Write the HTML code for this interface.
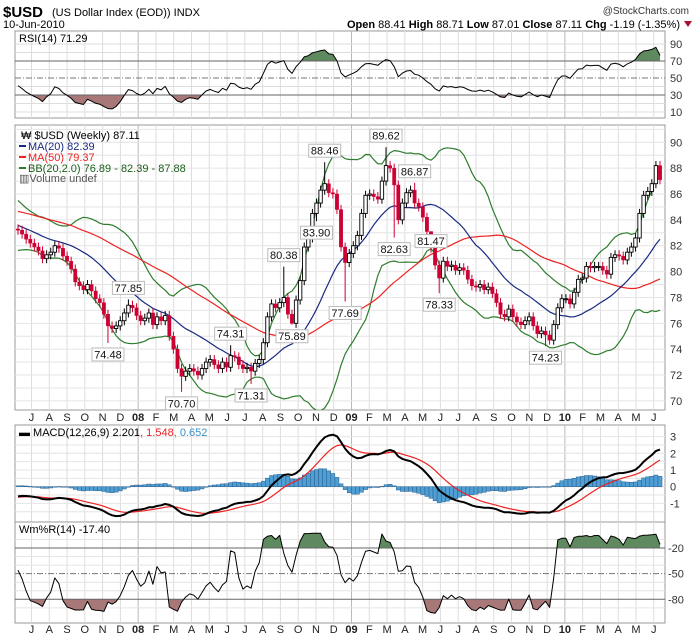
<!DOCTYPE html>
<html><head><meta charset="utf-8">
<style>
html,body{margin:0;padding:0;background:#fff;}
svg{display:block;font-family:"Liberation Sans",sans-serif;}
</style></head>
<body>
<svg id="chart" width="700" height="639" viewBox="0 0 700 639" xmlns="http://www.w3.org/2000/svg">
<g>
<text x="3" y="17" font-size="15" font-weight="bold">$USD</text>
<text x="52" y="16" font-size="11">(US Dollar Index (EOD))  INDX</text>
<text x="3" y="28" font-size="11">10-Jun-2010</text>
<text x="689" y="14" font-size="10" text-anchor="end" fill="#333">@StockCharts.com</text>
<text x="680" y="28" font-size="11" text-anchor="end"><tspan font-weight="bold">Open</tspan> 88.41 <tspan font-weight="bold">High</tspan> 88.71 <tspan font-weight="bold">Low</tspan> 87.01 <tspan font-weight="bold">Close</tspan> 87.11 <tspan font-weight="bold">Chg</tspan> -1.19 (-1.35%)</text>
<path d="M684,21 L692,21 L688,27 Z" fill="#aa1133"/>
</g>
<g id="layer"></g>
</svg>
<script>
// ---- data ----
const priorCloses=[86.5,86.2,85.9,86.3,86.0,85.7,85.4,85.8,86.1,85.9,85.5,85.2,85.0,85.4,85.7,85.3,84.9,84.6,84.8,85.1,85.3,84.9,84.6,84.4,84.7,85.0,85.2,84.9,85.6,
85.6,85.4,85.2,84.9,84.7,84.5,84.2,84.0,83.9,83.7,83.4,83.1,82.8,82.5,82.3,82.2,82.4,82.7,83.0,83.3];
const closes=[83.2,82.9,82.5,82.2,
81.9,81.6,81.0,81.3,
81.5,82.0,81.8,81.2,80.8,
80.2,79.2,78.9,78.6,
79.0,78.5,77.9,77.6,
76.7,75.8,75.6,75.8,76.2,
76.8,77.4,77.2,76.6,
76.2,76.4,76.8,75.9,
76.5,76.2,76.6,75.0,74.0,
72.5,71.9,72.3,72.5,
72.3,72.0,72.5,73.0,
73.2,72.8,72.5,73.0,72.6,
73.5,73.4,72.8,72.5,
72.6,72.3,72.9,73.2,
74.5,76.5,77.5,77.2,77.6,
78.0,76.7,76.0,77.8,
79.3,81.9,82.6,84.5,85.3,
86.3,86.8,86.1,86.0,
84.8,81.9,80.7,81.4,
82.0,82.8,84.5,85.9,86.0,
85.8,85.6,87.0,88.2,
88.0,86.7,84.0,85.3,
86.1,86.3,85.3,85.0,
84.2,83.1,82.2,80.5,79.5,
80.8,80.4,80.5,80.1,
80.3,80.1,79.4,78.9,78.8,
79.0,78.6,78.8,78.3,
77.6,76.7,76.5,77.1,
76.5,76.1,75.9,76.2,76.5,
75.8,75.2,75.4,75.1,
74.7,75.9,77.2,77.9,
77.9,77.5,78.4,79.4,79.5,
80.4,80.3,80.4,80.4,
80.1,79.8,81.1,81.3,
81.2,80.9,81.5,81.9,82.6,
84.5,85.9,86.2,86.8,
88.2,87.11];
const annIdx=[22,27,40,52,57,65,67,73,75,80,90,92,97,101,103,129];
const annVal=[74.48,77.85,70.70,74.31,71.31,80.38,75.89,83.90,88.46,77.69,89.62,82.63,86.87,81.47,78.33,74.23];
const annSide=['l','h','l','h','l','h','l','l','h','l','h','l','h','h','l','l'];
const monthNames=['J','A','S','O','N','D','08','F','M','A','M','J','J','A','S','O','N','D','09','F','M','A','M','J','J','A','S','O','N','D','10','F','M','A','M','J'];
const priceTicks=[70,72,74,76,78,80,82,84,86,88,90];
const rsiTicks=[90,70,50,30,10];
const macdTicks=[3,2,1,0,-1];
const wrTicks=[-20,-50,-80];

// ---- geometry ----
const L=15,R=665,X0=18,STEP=(660-18)/(closes.length-1);
const xi=i=>X0+i*STEP;
const monthX=k=>xi(3.3+k*4.348);
const yP=v=>142.3+(90-v)*12.93;
const yRSI=v=>61+(70-v)*0.85;
const yM=v=>486.7-v*16.7;
const yW=v=>548+(-20-v)*0.855;
const NS="http://www.w3.org/2000/svg";
const layer=document.getElementById('layer');
function mk(tag,attrs,parent){const e=document.createElementNS(NS,tag);for(const k in attrs)e.setAttribute(k,attrs[k]);(parent||layer).appendChild(e);return e;}
function txt(x,y,s,attrs,parent){const e=mk('text',Object.assign({x:x,y:y,'font-size':11},attrs||{}),parent);e.textContent=s;return e;}

// ---- derived series ----
const all=priorCloses.concat(closes),N0=priorCloses.length,n=closes.length;
const opens=closes.map((c,i)=>all[N0+i-1]);
const highs=closes.map((c,i)=>Math.max(c,opens[i])+0.35);
const lows=closes.map((c,i)=>Math.min(c,opens[i])-0.35);
annIdx.forEach((ix,k)=>{if(annSide[k]==='h')highs[ix]=annVal[k];else lows[ix]=annVal[k];});
function sma(p,j){let s=0;for(let k=j-p+1;k<=j;k++)s+=all[k];return s/p;}
function sd(p,j){const m=sma(p,j);let s=0;for(let k=j-p+1;k<=j;k++)s+=(all[k]-m)**2;return Math.sqrt(s/p);}
function ema(arr,p){const a=2/(p+1);const out=[arr[0]];for(let k=1;k<arr.length;k++)out.push(out[k-1]+a*(arr[k]-out[k-1]));return out;}
const e12=ema(all,12),e26=ema(all,26);
const macdAll=all.map((v,k)=>e12[k]-e26[k]);
const sigAll=ema(macdAll,9);
const rsiAll=[50];let ag=0,al=0;
for(let k=1;k<all.length;k++){const d=all[k]-all[k-1];const g=Math.max(d,0),l=Math.max(-d,0);
 if(k<=14){ag+=g/14;al+=l/14;}else{ag=(ag*13+g)/14;al=(al*13+l)/14;}
 rsiAll.push(al===0?100:100-100/(1+ag/al));}
const wr=closes.map((c,i)=>{let hh=-1e9,ll=1e9;for(let k=Math.max(0,i-13);k<=i;k++){hh=Math.max(hh,highs[k]);ll=Math.min(ll,lows[k]);}
 for(let k=N0+i-13;k<N0;k++){if(k>=0){hh=Math.max(hh,all[k]+0.35);ll=Math.min(ll,all[k]-0.35);}}
 return hh===ll?-50:-100*(hh-c)/(hh-ll);});

// ---- panels ----
const panels=[{name:'rsi-panel',t:31,b:118},{name:'price-panel',t:125,b:410},{name:'macd-panel',t:425,b:522},{name:'williams-r-panel',t:522,b:623}];
panels.forEach(p=>{
 const g=mk('g',{});
 
 
 mk('rect',{x:L,y:p.t,width:R-L,height:p.b-p.t,fill:'#fff',stroke:'#999','stroke-width':1},g);
 monthNames.forEach((m,k)=>{const x=monthX(k);if(x>L&&x<R){const l=mk('line',{x1:x,x2:x,y1:p.t,y2:p.b,stroke:/\d/.test(m)?'#b8b8b8':'#ddd','stroke-width':1},g);
  
  }});
});
function hgrid(y,stroke,dash){const l=mk('line',{x1:L,x2:R,y1:y,y2:y,stroke:stroke,'stroke-width':1});if(dash)l.setAttribute('stroke-dasharray',dash);return l;}
[10,20,40,60,80,90].forEach(v=>{hgrid(yRSI(v),'#ddd');});
rsiTicks.forEach(v=>{const t=txt(670,yRSI(v)+4,String(v),{fill:'#333'});});
for(let v=70;v<=91;v+=1){if(yP(v)>126&&yP(v)<409)hgrid(yP(v),'#e4e4e4');}
priceTicks.forEach(v=>{const t=txt(670,yP(v)+4,String(v),{fill:'#333'});});
[-1.5,-1,-0.5,0,0.5,1,1.5,2,2.5,3].forEach(v=>hgrid(yM(v),'#e4e4e4'));
macdTicks.forEach(v=>{const t=txt(670,yM(v)+4,String(v),{fill:'#333'});});
[-10,-30,-40,-60,-70,-90].forEach(v=>hgrid(yW(v),'#e4e4e4'));
wrTicks.forEach(v=>{const t=txt(668,yW(v)+4,String(v),{fill:'#333'});});

[421,633].forEach(yy=>{monthNames.forEach((m,k)=>{const x=monthX(k);const t=txt(x,yy,m,{'text-anchor':'middle','font-weight':/\d/.test(m)?'bold':'normal',fill:'#222'});
 
 });});

function pline(pts,stroke,w,name,parent){const e=mk('polyline',{points:pts.map(p=>p[0].toFixed(1)+','+p[1].toFixed(1)).join(' '),fill:'none',stroke:stroke,'stroke-width':w,'stroke-linejoin':'round'},parent);
 
 return e;}

const defs=mk('defs',{});
function clip(id,x,y,w,h){const c=mk('clipPath',{id:id},defs);mk('rect',{x:x,y:y,width:w,height:h},c);}
clip('rsiHi',L,31,R-L,yRSI(70)-31);clip('rsiLo',L,yRSI(30),R-L,118-yRSI(30));
clip('wrHi',L,522,R-L,yW(-20)-522);clip('wrLo',L,yW(-80),R-L,623-yW(-80));
clip('priceClip',L,125,R-L,285);

function fillArea(vals,yf,base,clipId,color,name){const pts=vals.map((v,i)=>xi(i).toFixed(1)+','+yf(v).toFixed(1));
 pts.push(xi(vals.length-1).toFixed(1)+','+yf(base).toFixed(1));pts.unshift(xi(0).toFixed(1)+','+yf(base).toFixed(1));
 const e=mk('polygon',{points:pts.join(' '),fill:color,'clip-path':'url(#'+clipId+')'});
 
 }

const rsi=closes.map((c,i)=>rsiAll[N0+i]);
fillArea(rsi,yRSI,70,'rsiHi','#5f8a5f','rsi-overbought-fill');
fillArea(rsi,yRSI,30,'rsiLo','#a87878','rsi-oversold-fill');
hgrid(yRSI(70),'#666');hgrid(yRSI(30),'#666');hgrid(yRSI(50),'#777','6,2,1,2');
pline(rsi.map((v,i)=>[xi(i),yRSI(v)]),'#000',1,'rsi-line');
txt(19,42,'RSI(14) 71.29',{'font-size':11});

const pg=mk('g',{'clip-path':'url(#priceClip)'});


const ma20=[],ma50=[],bbU=[],bbL=[];
closes.forEach((c,i)=>{const j=N0+i;const m=sma(20,j),s=sd(20,j);ma20.push([xi(i),yP(m)]);ma50.push([xi(i),yP(sma(50,j))]);bbU.push([xi(i),yP(m+2*s)]);bbL.push([xi(i),yP(m-2*s)]);});
pline(bbU,'#2e7d2e',1.2,'bollinger-upper',pg);pline(bbL,'#2e7d2e',1.2,'bollinger-lower',pg);
pline(ma50,'#ee2222',1.2,'ma50-line',pg);pline(ma20,'#1a2a80',1.2,'ma20-line',pg);
closes.forEach((c,i)=>{const g=mk('g',{},pg);
 
 
 const x=xi(i),o=opens[i];const up=c>=o;const col=c<o?'#cc0033':'#000';
 mk('line',{x1:x,x2:x,y1:yP(highs[i]),y2:yP(lows[i]),stroke:col,'stroke-width':1},g);
 const yt=yP(Math.max(o,c)),yb=yP(Math.min(o,c));
 mk('rect',{x:x-1.7,y:yt,width:3.4,height:Math.max(1,yb-yt),fill:up?'#fff':'#cc0033',stroke:col,'stroke-width':up?0.9:0.4},g);});
annIdx.forEach((ix,k)=>{const g=mk('g',{});
 
 
 const x=xi(ix),v=annVal[k],y=yP(v),s=v.toFixed(2);const w=32,h=13;
 let by=annSide[k]==='h'?y-h-5:y+5;
 mk('rect',{x:x-w/2,y:by,width:w,height:h,fill:'#fff',stroke:'#bbb','stroke-width':1},g);
 txt(x,by+10.5,s,{'text-anchor':'middle','font-size':11,fill:'#111'},g);});
const lg=mk('g',{});


txt(21,139,'₩ $USD (Weekly) 87.11',{fill:'#000'},lg);
mk('line',{x1:19,x2:26,y1:146,y2:146,stroke:'#1a2a80','stroke-width':2},lg);txt(28,150,'MA(20) 82.39',{fill:'#1a2a80'},lg);
mk('line',{x1:19,x2:26,y1:157,y2:157,stroke:'#ee2222','stroke-width':2},lg);txt(28,161,'MA(50) 79.37',{fill:'#ee2222'},lg);
mk('line',{x1:19,x2:26,y1:168,y2:168,stroke:'#2e7d2e','stroke-width':2},lg);txt(28,172,'BB(20,2.0) 76.89 - 82.39 - 87.88',{fill:'#1b5e1b'},lg);
txt(19,182,'▥Volume undef',{fill:'#555'},lg);

const macd=closes.map((c,i)=>macdAll[N0+i]),sig=closes.map((c,i)=>sigAll[N0+i]);
closes.forEach((c,i)=>{const h=macd[i]-sig[i];const y0=yM(0),y1=yM(h);
 const b=mk('rect',{x:xi(i)-2,y:Math.min(y0,y1),width:4,height:Math.max(0.5,Math.abs(y1-y0)),fill:'#4f9fd4',stroke:'#2a5f8f','stroke-width':0.5});
 
 });
pline(sig.map((v,i)=>[xi(i),yM(v)]),'#ee2222',1.2,'macd-signal-line');
pline(macd.map((v,i)=>[xi(i),yM(v)]),'#000',2,'macd-line');
const ml=txt(19,436,'',{});
ml.innerHTML='<tspan font-weight="bold">▬</tspan> MACD(12,26,9) 2.201<tspan fill="#ee2222">, 1.548</tspan><tspan fill="#3b8fc8">, 0.652</tspan>';

fillArea(wr,yW,-20,'wrHi','#5f8a5f','williams-r-overbought-fill');
fillArea(wr,yW,-80,'wrLo','#a87878','williams-r-oversold-fill');
hgrid(yW(-20),'#666');hgrid(yW(-80),'#666');hgrid(yW(-50),'#777','6,2,1,2');
pline(wr.map((v,i)=>[xi(i),yW(v)]),'#000',1,'williams-r-line');
txt(19,533,'Wm%R(14) -17.40',{});
</script>
</body></html>
